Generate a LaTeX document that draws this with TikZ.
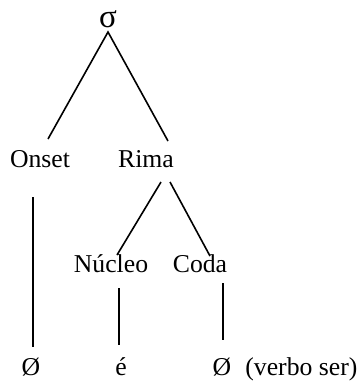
\documentclass[tikz,border=0pt]{standalone}
\usepackage{fontspec}
\setmainfont{Liberation Serif}
\begin{document}
\begin{tikzpicture}[x=0.5pt,y=-0.5pt,
  lbl/.style={inner sep=0pt,anchor=base,font=\fontsize{12.85}{15}\selectfont},
  edge/.style={line width=0.8pt}]
\useasboundingbox (0,0) rectangle (363,381);
\node[lbl,font=\fontsize{16.5}{18}\selectfont] (sigma) at (108,27) {σ};
\node[lbl] (onset) at (40,167) {Onset};
\node[lbl] (rima) at (146,167) {Rima};
\node[lbl] (nucleo) at (111,272) {Núcleo};
\node[lbl] (coda) at (200,272) {Coda};
\node[lbl] (z1) at (31,375) {Ø};
\node[lbl] (e) at (121,375) {é};
\node[lbl] (z2) at (222,375) {Ø};
\node[lbl,anchor=base west] (vs) at (245,375) {(verbo ser)};
\coordinate (sa) at (108,32);
\coordinate (oa) at (48,139);
\coordinate (ra) at (168,141);
\coordinate (ob) at (33,197);
\coordinate (zb) at (33,347);
\coordinate (rl) at (161,182);
\coordinate (rr) at (170,182);
\coordinate (na) at (117,255);
\coordinate (ca) at (210,256);
\coordinate (nb) at (119,288);
\coordinate (eb) at (119,345);
\coordinate (cb) at (223,283);
\coordinate (z2b) at (223,340);
\draw[edge] (oa) -- (sa) -- (ra);
\draw[edge] (ob) -- (zb);
\draw[edge] (rl) -- (na);
\draw[edge] (rr) -- (ca);
\draw[edge] (nb) -- (eb);
\draw[edge] (cb) -- (z2b);
\end{tikzpicture}
\end{document}
